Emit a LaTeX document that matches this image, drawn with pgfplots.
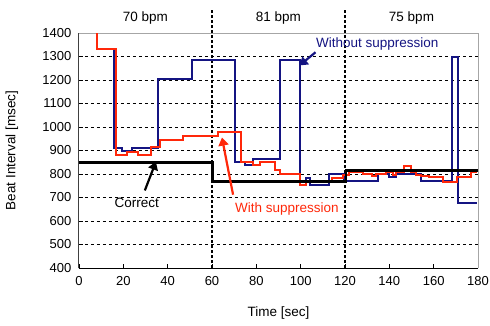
\documentclass[border=0pt]{standalone}
\usepackage{pgfplots}
\pgfplotsset{compat=1.18}
\usepackage{fontspec}
\setmainfont{Liberation Sans}
\usetikzlibrary{arrows.meta}
\definecolor{navy}{RGB}{20,20,130}
\definecolor{myred}{RGB}{255,40,10}
\begin{document}
\fontsize{13.5}{16}\selectfont
\begin{tikzpicture}
\begin{axis}[
 scale only axis, width=399pt, height=235pt,
 xmin=0, xmax=180, ymin=400, ymax=1400,
 xtick={0,20,...,180}, ytick={400,500,...,1400},
 axis x line*=bottom, axis y line*=left,
 x axis line style={black, line width=1pt},
 y axis line style={black!75, line width=1pt},
 ymajorgrids, grid style={dashed, black, line width=0.5pt},
 clip=false,
 xlabel={Time [sec]}, ylabel={Beat Interval [msec]},
 xlabel style={at={(axis description cs:0.5,-0.191)}, anchor=center},
 ylabel style={at={(axis description cs:-0.168,0.5)}, anchor=center},
 label style={font=\fontsize{13.5}{16}\selectfont},
 tick label style={font=\fontsize{13}{15}\selectfont},
 xticklabel style={yshift=-4pt},
 yticklabel style={xshift=-3pt},
 /pgf/number format/assume math mode=true,
 /pgf/number format/1000 sep={},
 tick style={black, line width=0.6pt}, major tick length=4pt,
]
\coordinate (O) at (rel axis cs:0,0);
\draw[gray!70, line width=0.9pt] (rel axis cs:0,1) -- (rel axis cs:1,1) -- (rel axis cs:1,0);
% section separators
\addplot[black, line width=1.6pt, dash pattern=on 3pt off 2pt] coordinates {(60,400) (60,1506)};
\addplot[black, line width=1.6pt, dash pattern=on 3pt off 2pt] coordinates {(120,400) (120,1506)};
% without suppression
\addplot[navy, line width=2pt, const plot mark left] coordinates {
(8,1400) (8,1330) (15.6,910) (19.2,897) (24,912) (35.7,1203) (51.2,1283)
(70.2,852) (74.7,838) (78.4,865) (90.5,1283) (99.8,752) (102.5,782) (104,755)
(113,800) (119.5,772) (134.7,800) (140,786) (143,800) (154.2,772)
(168.4,1300) (171,678) (179.5,678)};
% with suppression
\addplot[myred, line width=2pt, const plot mark left] coordinates {
(8,1400) (8,1330) (16.8,880) (21.7,893) (26.5,880) (32.7,915) (36.5,945)
(47,962) (62.5,978) (73.2,852) (78.4,838) (81.5,852) (88.2,817) (90.5,800)
(99.6,752) (102.6,765) (114,783) (119,796) (122,807) (128,800) (132.4,790)
(134,800) (138.5,807) (141.5,796) (143,807) (146.7,835) (149.7,807) (152,796)
(154.2,790) (158,786) (164,767) (170.7,786) (176.7,807) (179.5,807)};
% correct
\addplot[black, line width=2.6pt, const plot mark left] coordinates {
(0,850) (60.3,767) (120.5,815) (180,815)};
% annotations
\node at (axis cs:30,1464) {70 bpm};
\node at (axis cs:90,1464) {81 bpm};
\node at (axis cs:150,1464) {75 bpm};
\node[navy] at (axis cs:134.6,1353) {Without suppression};
\draw[navy, line width=2.2pt, -{Triangle[length=8pt,width=10pt]}] (axis cs:106.7,1318) -- (axis cs:99.5,1262);
\node at (axis cs:26.1,677) {Correct};
\draw[black, line width=2.2pt, -{Triangle[length=8pt,width=10pt]}] (axis cs:29.7,730) -- (axis cs:34.7,852);
\node[myred] at (axis cs:93.8,651) {With suppression};
\draw[myred, line width=2.2pt, -{Triangle[length=8pt,width=10pt]}] (axis cs:69.5,712) -- (axis cs:64.5,955);
\end{axis}
\pgfresetboundingbox
\path (O) ++(-79pt,-57pt) rectangle ++(490pt,325pt);
\end{tikzpicture}
\end{document}
